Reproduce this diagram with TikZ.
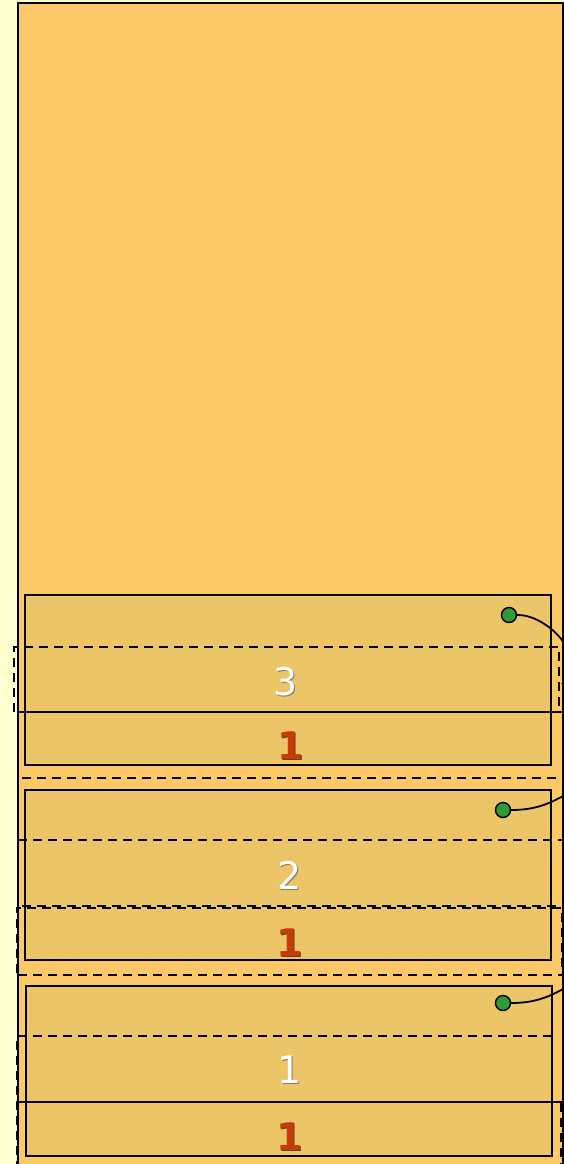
\documentclass[tikz,border=0pt]{standalone}
\usepackage{fontspec}
\setsansfont{DejaVu Sans}
\begin{document}
\begin{tikzpicture}[x=1pt,y=-1pt,
  box/.style={draw=black,line width=2.2pt,fill=hatchfill},
  dln/.style={draw=black,line width=2pt,dash pattern=on 9pt off 6pt},
  sln/.style={draw=black,line width=2pt},
  dot/.style={circle,draw=black,line width=1.4pt,fill=dotgreen,minimum size=15pt,inner sep=0pt},
  wnum/.style={font=\sffamily\fontsize{38}{40}\selectfont,text=white,inner sep=0pt},
  rnum/.style={font=\sffamily\bfseries\fontsize{38}{40}\selectfont,text=numred,inner sep=0pt},
  wshd/.style={text=wshadow},
  shd/.style={text=shadowc},
  curve/.style={draw=black,line width=1.8pt}]
\definecolor{pagebg}{HTML}{FFFFD0}
\definecolor{orangebg}{HTML}{FDC867}
\definecolor{hatchfill}{HTML}{EBC567}
\definecolor{dotgreen}{HTML}{339933}
\definecolor{numred}{HTML}{C43C08}
\definecolor{shadowc}{HTML}{6A4020}
\definecolor{wshadow}{HTML}{8A7A60}
\useasboundingbox (0,0) rectangle (564,1164);
\clip (0,0) rectangle (564,1164);
\fill[pagebg] (0,0) rectangle (564,1164);
\draw[fill=orangebg,line width=2.2pt] (18,3) rectangle (563,1172);
% box 3
\draw[box] (25,595) rectangle (551,765);
\draw[dln] (14,712) -- (14,647) -- (559,647) -- (559,712);
\draw[sln] (18,712) -- (564,712);
\draw[dln] (18,712) -- (564,712);
\draw[dln] (22,778) -- (564,778);
% box 2
\draw[box] (25,790) rectangle (551,960);
\draw[dln] (18,840) -- (564,840);
\draw[dln] (22,906) -- (564,906);
\draw[dln] (17,973) -- (17,908) -- (562,908) -- (562,973);
\draw[dln] (18,975) -- (564,975);
% box 1
\draw[box] (26,986) rectangle (552,1156);
\draw[dln] (18,1036) -- (557,1036);
\draw[dln] (17,1170) -- (17,1036) -- (18,1036);
\draw[sln] (18,1102) -- (564,1102);
\draw[dln] (561,1103) -- (561,1170);
% numbers
\node[wnum,wshd] at (287,683) {3};
\node[wnum] (t3) at (286,682) {3};
\node[rnum,shd] at (292,747) {1};
\node[rnum] (r3) at (291,746) {1};
\node[wnum,wshd] at (291,876) {2};
\node[wnum] (t2) at (290,875) {2};
\node[rnum,shd] at (291,944) {1};
\node[rnum] (r2) at (290,943) {1};
\node[wnum,wshd] at (291,1071) {1};
\node[wnum] (t1) at (290,1070) {1};
\node[rnum,shd] at (291,1138) {1};
\node[rnum] (r1) at (290,1137) {1};
% dots and curves
\coordinate (e3) at (562,684);
\coordinate (e2) at (570,792);
\coordinate (e1) at (570,985);
\node[dot] (d3) at (509,615) {};
\node[dot] (d2) at (503,810) {};
\node[dot] (d1) at (503,1003) {};
\draw[curve] (d3.east) .. controls (545,614) and (590,655) .. (e3);
\draw[curve] (d2.east) .. controls (535,810) and (550,804) .. (e2);
\draw[curve] (d1.east) .. controls (535,1003) and (550,997) .. (e1);
\end{tikzpicture}
\end{document}
